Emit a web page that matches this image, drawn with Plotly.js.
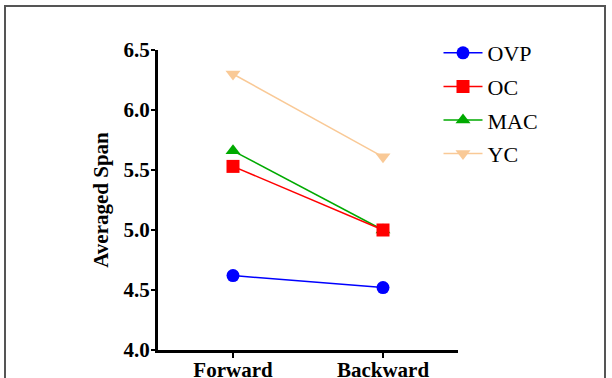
<!DOCTYPE html>
<html>
<head>
<meta charset="utf-8">
<script src="https://cdn.plot.ly/plotly-3.0.1.min.js"></script>
<style>
  html, body { margin: 0; padding: 0; background: #fff; }
  #wrap { position: relative; width: 612px; height: 378px; overflow: hidden; }
  #chart { position: absolute; left: 0; top: 0; width: 612px; height: 378px; }
  #frame { position: absolute; left: 4px; top: 5px; width: 602px; height: 400px;
           border: 2px solid #555; pointer-events: none; box-sizing: border-box; }
</style>
</head>
<body>
<div id="wrap">
  <div id="chart"></div>
  <div id="frame"></div>
</div>
<script>
const categories = ["Forward", "Backward"];
const seriesNames = ["OVP", "OC", "MAC", "YC"];
const ovp = [4.62, 4.52];
const oc = [5.53, 5.00];
const mac = [5.66, 5.00];
const yc = [6.30, 5.61];
const yTicks = [4.0, 4.5, 5.0, 5.5, 6.0, 6.5];
const yTickLabels = ["4.0", "4.5", "5.0", "5.5", "6.0", "6.5"];

const styles = [
  {color: "#0000FF", symbol: "circle", size: 13},
  {color: "#FF0000", symbol: "square", size: 13},
  {color: "#00AA00", symbol: "triangle-up", size: 13},
  {color: "#F9C996", symbol: "triangle-down", size: 13}
];
const values = [ovp, oc, mac, yc];
const drawOrder = [3, 2, 1, 0];

const traces = drawOrder.map(i => ({
  x: categories,
  y: values[i],
  name: seriesNames[i],
  type: "scatter",
  mode: "lines+markers",
  legendgroup: seriesNames[i],
  legendrank: i + 1,
  line: {color: styles[i].color, width: 1.5},
  marker: {color: styles[i].color, symbol: styles[i].symbol, size: styles[i].size}
}));

const serif = "Liberation Serif";

const layout = {
  width: 612,
  height: 378,
  margin: {l: 158, r: 154, t: 50, b: 28},
  paper_bgcolor: "#fff",
  plot_bgcolor: "#fff",
  font: {family: serif, color: "#000"},
  showlegend: true,
  legend: {
    x: 0.935, xanchor: "left",
    y: 1.06, yanchor: "top",
    font: {family: serif, size: 22, color: "#000"},
    tracegroupgap: 2,
    itemwidth: 39,
    bgcolor: "rgba(0,0,0,0)"
  },
  xaxis: {
    type: "category",
    range: [-0.5, 1.5],
    tickvals: categories,
    ticktext: categories.map(c => "<b>" + c + "</b>"),
    showline: true, linecolor: "#000", linewidth: 3,
    showgrid: false, zeroline: false,
    ticks: "outside", ticklen: 5, tickwidth: 2, tickcolor: "#000",
    ticklabelstandoff: -6,
    tickfont: {family: serif, size: 21, color: "#000"},
    fixedrange: true
  },
  yaxis: {
    range: [4.0, 6.5],
    tickvals: yTicks,
    ticktext: yTickLabels.map(t => "<b>" + t + "</b>"),
    showline: true, linecolor: "#000", linewidth: 3,
    showgrid: false, zeroline: false,
    ticks: "outside", ticklen: 4, tickwidth: 2, tickcolor: "#000",
    ticklabelstandoff: -3,
    tickfont: {family: serif, size: 21, color: "#000"},
    title: {text: "<b>Averaged Span</b>", font: {family: serif, size: 21, color: "#000"}, standoff: 10},
    fixedrange: true
  }
};

Plotly.newPlot("chart", traces, layout, {displayModeBar: false, staticPlot: true});
</script>
</body>
</html>
